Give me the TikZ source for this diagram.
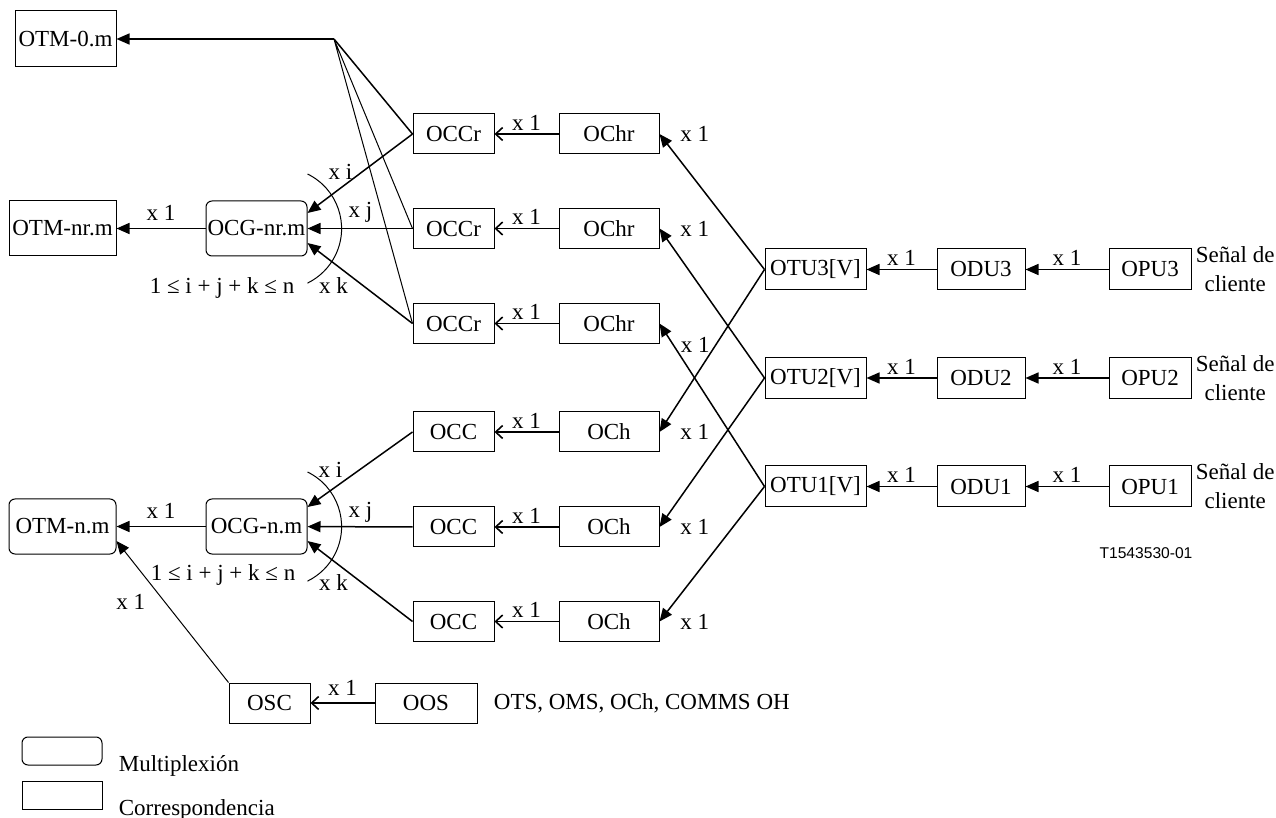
\documentclass[tikz,border=0pt]{standalone}
\usepackage{fontspec}
\setmainfont{Liberation Serif}
\newfontfamily\figsans{Liberation Sans}
\usetikzlibrary{positioning,arrows.meta}
\tikzset{%
    box/.style={draw,line width=0.5pt,minimum width=#1,minimum height=20pt,inner sep=0pt},
    box/.default=40.5pt,
    mux/.style={box=#1,rounded corners=3pt,minimum height=27.5pt},
    mux/.default=50.5pt,
    feed/.style={line width=0.75pt,-{Triangle[length=6.5pt,width=5.5pt]}},
    mapto/.style={line width=0.8pt,-{Straight Barb[length=3.5pt,width=6.5pt]}},
    lbl/.style={inner sep=1.5pt},
}

\begin{document}
\begin{tikzpicture}[x=0.5pt,y=-0.5pt,every node/.style={font=\fontsize{11.5}{14.5}\selectfont}]
    \useasboundingbox (0,0) rectangle (1276,818);

    % OTM / OCG
    \node[box=50.5pt,minimum height=28pt] (otm0) at (65.5,39) {OTM-0.m};
    \node[box=53.5pt,minimum height=27.5pt] (otmnr) at (62.5,228.5) {OTM-nr.m};
    \node[mux] (ocgnr) at (256.5,228.5) {OCG-nr.m};
    \node[mux=53.5pt] (otmn) at (62.5,526.5) {OTM-n.m};
    \node[mux] (ocgn) at (256.5,526.5) {OCG-n.m};

    % OCCr / OChr
    \node[box] (occr1) at (453.5,134) {OCCr};
    \node[box] (occr2) at (453.5,228.5) {OCCr};
    \node[box] (occr3) at (453.5,323.5) {OCCr};
    \node[box=50pt] (ochr1) at (609,134) {OChr};
    \node[box=50pt] (ochr2) at (609,228.5) {OChr};
    \node[box=50pt] (ochr3) at (609,323.5) {OChr};

    % OCC / OCh
    \node[box] (occ1) at (453.5,432) {OCC};
    \node[box] (occ2) at (453.5,527) {OCC};
    \node[box] (occ3) at (453.5,621.5) {OCC};
    \node[box=50pt] (och1) at (609,432) {OCh};
    \node[box=50pt] (och2) at (609,527) {OCh};
    \node[box=50pt] (och3) at (609,621.5) {OCh};

    % OTU / ODU / OPU
    \node[box=50.5pt,minimum height=20.5pt] (otu3) at (815.5,269.5) {OTU3[V]};
    \node[box=44pt,minimum height=20.5pt] (odu3) at (981,269.5) {ODU3};
    \node[box=41pt,minimum height=20.5pt] (opu3) at (1150,269.5) {OPU3};
    \node[right=2pt of opu3,align=center,inner sep=0pt] (cli3) {Señal de\\cliente};

    \node[box=50.5pt,minimum height=20.5pt] (otu2) at (815.5,378) {OTU2[V]};
    \node[box=44pt,minimum height=20.5pt] (odu2) at (981,378) {ODU2};
    \node[box=41pt,minimum height=20.5pt] (opu2) at (1150,378) {OPU2};
    \node[right=2pt of opu2,align=center,inner sep=0pt] (cli2) {Señal de\\cliente};

    \node[box=50.5pt,minimum height=20.5pt] (otu1) at (815.5,486.5) {OTU1[V]};
    \node[box=44pt,minimum height=20.5pt] (odu1) at (981,486.5) {ODU1};
    \node[box=41pt,minimum height=20.5pt] (opu1) at (1150,486.5) {OPU1};
    \node[right=2pt of opu1,align=center,inner sep=0pt] (cli1) {Señal de\\cliente};

    \node[font=\figsans\fontsize{7.8}{9}\selectfont] (figno) at (1146,553) {T1543530-01};

    % OSC / OOS
    \node[box] (osc) at (269.5,703) {OSC};
    \node[box=51pt] (oos) at (426,703) {OOS};
    \node[right=8pt of oos,inner sep=0pt] (ohtxt) {OTS, OMS, OCh, COMMS OH};

    % legend
    \node[mux=40pt,minimum height=14pt] (legmux) at (62,751) {};
    \node[right=8pt of legmux.south east,inner sep=0pt] (legmuxtxt) {Multiplexión};
    \node[box=40pt,minimum height=14pt] (legmap) at (62,795) {};
    \node[right=8pt of legmap.south east,inner sep=0pt] (legmaptxt) {Correspondencia};

    % fan to OTM-0.m
    \coordinate (fan) at (334,39);
    \draw[feed] (fan) -- (otm0);
    \draw[line width=0.75pt] (occr1.west) -- (fan);
    \draw[line width=0.5pt] (occr2.west) -- (fan) (occr3.west) -- (fan);

    % into OCG-nr.m
    \draw[feed] (occr1.west) -- ([shift={(0,-15.5)}]ocgnr.east);
    \draw[feed] (occr2) -- (ocgnr);
    \draw[feed] (occr3.west) -- ([shift={(0,14.5)}]ocgnr.east);
    \draw[feed] (ocgnr) -- node[lbl,above=2pt] {x 1} (otmnr);
    \draw[line width=0.5pt] ([shift={(0,-54.5)}]ocgnr.east) arc[start angle=-64,end angle=64,radius=60.7];
    \node[lbl] (xinr) at ([shift={(33,-56.5)}]ocgnr.east) {x i};
    \node[lbl] (xjnr) at ([shift={(53,-16.5)}]ocgnr.east) {x j};
    \node[lbl] (xknr) at ([shift={(26,57.5)}]ocgnr.east) {x k};
    \node[lbl] (sumnr) at ([shift={(-34.5,59.5)}]ocgnr.center) {1 ≤ i + j + k ≤ n};

    % into OCG-n.m
    \draw[feed] (occ1.west) -- ([shift={(0,-19.5)}]ocgn.east);
    \draw[feed] (occ2) -- (ocgn);
    \draw[feed] (occ3.west) -- ([shift={(0,14.5)}]ocgn.east);
    \draw[feed] (ocgn) -- node[lbl,above=2pt] {x 1} (otmn);
    \draw[line width=0.5pt] ([shift={(0,-54.5)}]ocgn.east) arc[start angle=-64,end angle=64,radius=60.7];
    \node[lbl] (xin) at ([shift={(23,-56.5)}]ocgn.east) {x i};
    \node[lbl] (xjn) at ([shift={(53,-14.5)}]ocgn.east) {x j};
    \node[lbl] (xkn) at ([shift={(26,56.5)}]ocgn.east) {x k};
    \node[lbl] (sumn) at ([shift={(-33.5,48.5)}]ocgn.center) {1 ≤ i + j + k ≤ n};

    % OCh -> OCC
    \draw[mapto] (ochr1) -- node[lbl,above] {x 1} (occr1);
    \draw[mapto] (ochr2) -- node[lbl,above] {x 1} (occr2);
    \draw[mapto] (ochr3) -- node[lbl,above] {x 1} (occr3);
    \draw[mapto] (och1) -- node[lbl,above] {x 1} (occ1);
    \draw[mapto] (och2) -- node[lbl,above] {x 1} (occ2);
    \draw[mapto] (och3) -- node[lbl,above] {x 1} (occ3);

    % OTU -> OCh
    \draw[feed] (otu3.west) -- node[lbl,pos=1,right=8.5pt] {x 1} (ochr1.east);
    \draw[feed] (otu3.west) -- node[lbl,pos=1,right=8.5pt] {x 1} (och1.east);
    \draw[feed] (otu2.west) -- node[lbl,pos=1,right=8.5pt] {x 1} (ochr2.east);
    \draw[feed] (otu2.west) -- node[lbl,pos=1,right=8.5pt] {x 1} (och2.east);
    \draw[feed] (otu1.west) -- node[lbl,pos=0.87,right=2pt] {x 1} (ochr3.east);
    \draw[feed] (otu1.west) -- node[lbl,pos=1,right=8.5pt] {x 1} (och3.east);

    % OPU -> ODU -> OTU
    \draw[feed] (odu3) -- node[lbl,above] {x 1} (otu3);
    \draw[feed] (opu3) -- node[lbl,above] {x 1} (odu3);
    \draw[feed] (odu2) -- node[lbl,above] {x 1} (otu2);
    \draw[feed] (opu2) -- node[lbl,above] {x 1} (odu2);
    \draw[feed] (odu1) -- node[lbl,above] {x 1} (otu1);
    \draw[feed] (opu1) -- node[lbl,above] {x 1} (odu1);

    % OSC
    \draw[mapto] (oos) -- node[lbl,above=2pt] {x 1} (osc);
    \draw[feed,line width=0.5pt] (osc.north west) -- node[lbl,pos=0.57,left=8pt] {x 1} ([shift={(0,14.5)}]otmn.east);

\end{tikzpicture}
\end{document}
